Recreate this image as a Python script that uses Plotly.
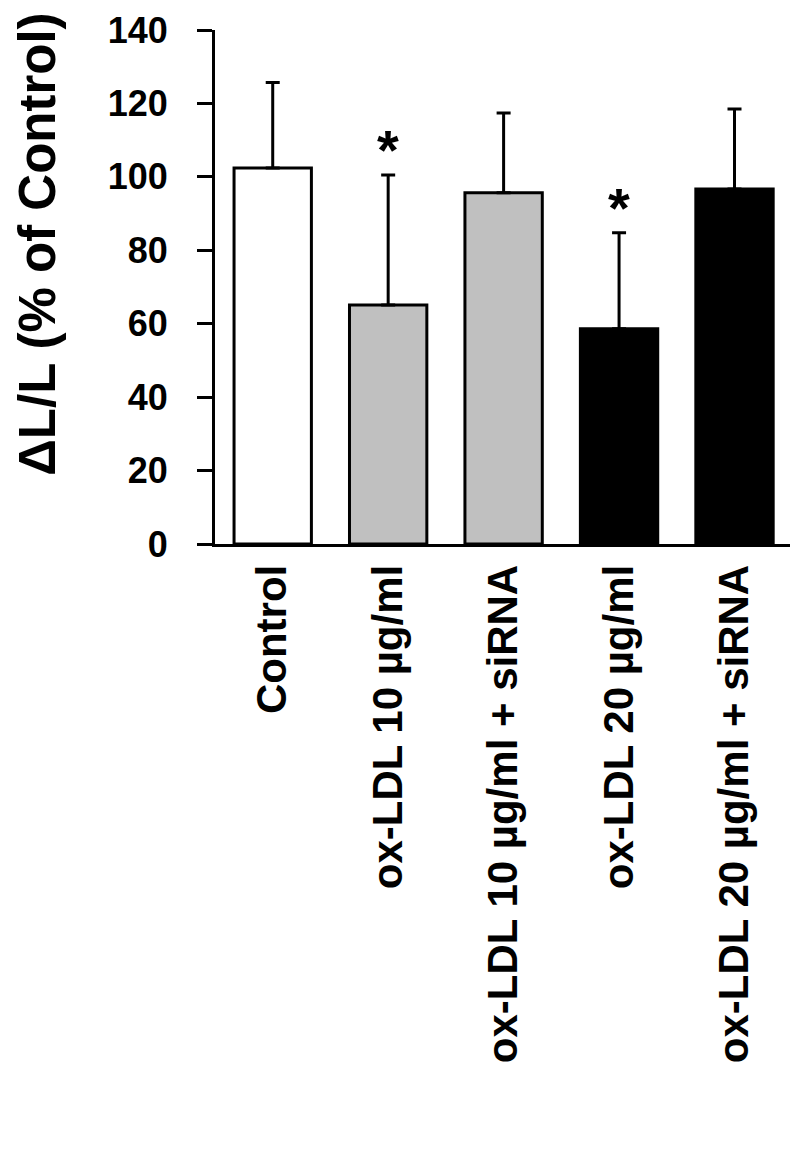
import plotly.graph_objects as go

categories = ["Control", "ox-LDL 10 µg/ml", "ox-LDL 10 µg/ml + siRNA",
              "ox-LDL 20 µg/ml", "ox-LDL 20 µg/ml + siRNA"]
means = [102.4, 65.1, 95.7, 58.6, 96.7]
errors_up = [23.3, 35.4, 21.7, 26.2, 21.8]
significance = ["", "*", "", "*", ""]
fill_colors = ["#ffffff", "#c0c0c0", "#c0c0c0", "#000000", "#000000"]

y_ticks = [0, 20, 40, 60, 80, 100, 120, 140]
y_title = "ΔL/L (% of Control)"

FONT = "Liberation Sans, Arial, sans-serif"

fig = go.Figure()
fig.add_trace(go.Bar(
    x=categories,
    y=means,
    width=0.67,
    marker=dict(color=fill_colors, line=dict(color="#000000", width=3)),
    error_y=dict(type="data", symmetric=False, array=errors_up,
                 arrayminus=[0] * len(means), color="#000000",
                 thickness=3, width=7),
    showlegend=False,
))

for cat, m, e, s in zip(categories, means, errors_up, significance):
    if s:
        fig.add_annotation(x=cat, y=m + e, text="<b>" + s + "</b>",
                           showarrow=False, yanchor="bottom", yshift=-8,
                           font=dict(family=FONT, size=56, color="#000000"))

# y-axis title placed as rotated annotation (sits above plot centre as in reference)
fig.add_annotation(xref="paper", yref="paper", x=-0.3036, y=0.582,
                   text="<b>" + y_title + "</b>", textangle=-90,
                   showarrow=False, xanchor="center", yanchor="middle",
                   font=dict(family=FONT, size=51, color="#000000"))

fig.update_layout(
    width=790, height=1161,
    margin=dict(l=207, r=0, t=22, b=625, pad=0),
    plot_bgcolor="#ffffff", paper_bgcolor="#ffffff",
    font=dict(family=FONT, color="#000000"),
)

fig.update_xaxes(
    range=[-0.5, 4.55],
    showline=True, linecolor="#000000", linewidth=3,
    ticks="", showgrid=False, zeroline=False,
    tickangle=-90,
    tickfont=dict(family=FONT, size=42, color="#000000", weight="bold"),
    ticklabelstandoff=1,
)

fig.update_yaxes(
    range=[0, 140],
    tickvals=y_ticks,
    showline=True, linecolor="#000000", linewidth=3,
    ticks="outside", ticklen=15, tickwidth=3, tickcolor="#000000",
    showgrid=False, zeroline=False,
    tickfont=dict(family=FONT, size=36, color="#000000", weight="bold"),
    ticklabelstandoff=22,
)

fig.write_html("out.html")
